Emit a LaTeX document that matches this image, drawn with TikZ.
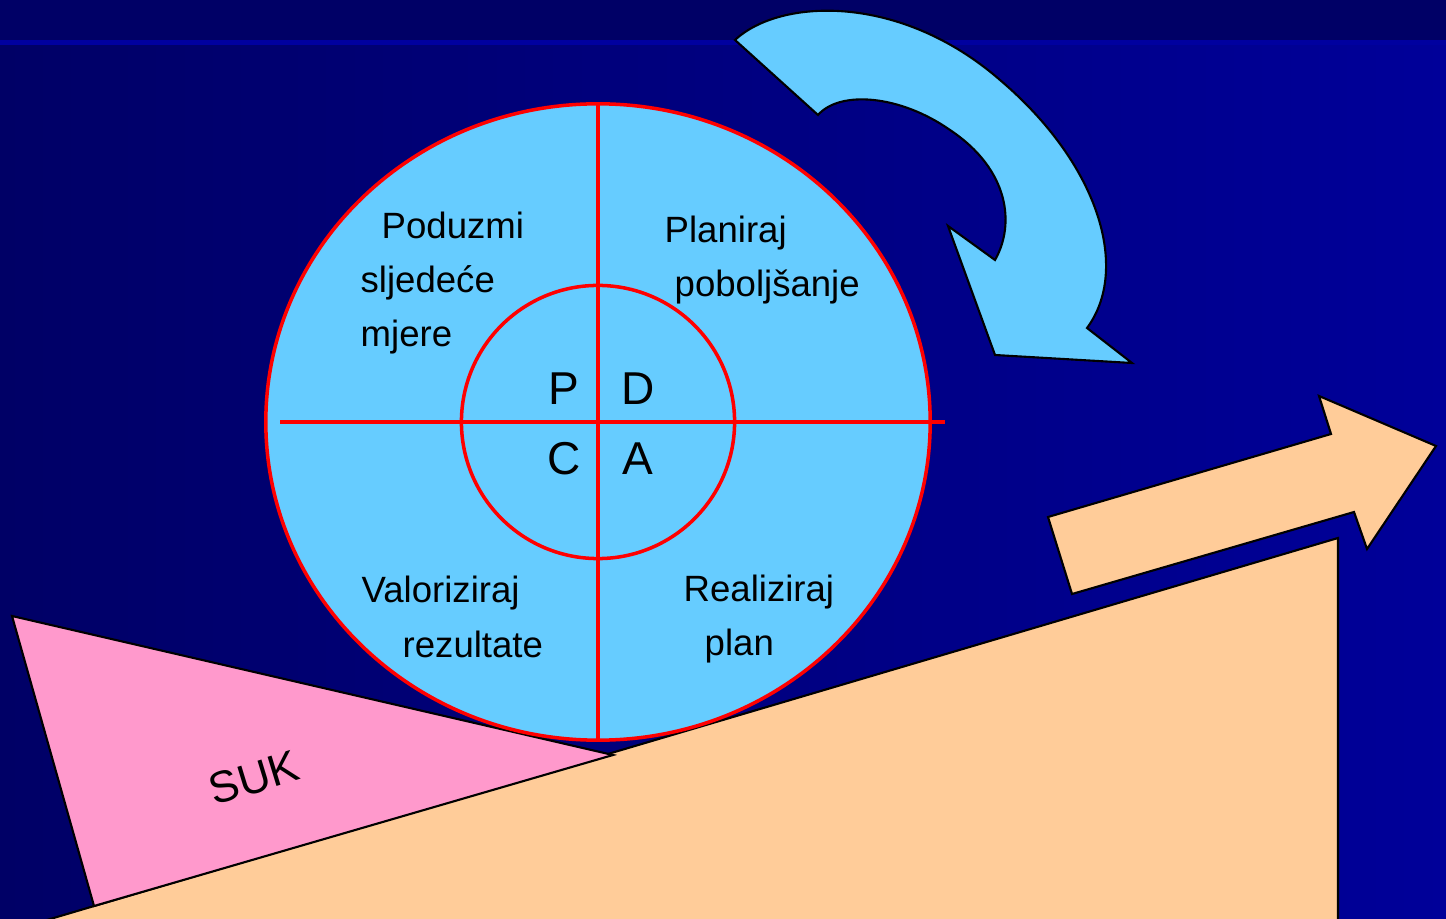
\documentclass[tikz,border=0pt]{standalone}
\usepackage{fontspec}
\setmainfont{Liberation Sans}
\usetikzlibrary{positioning}
\definecolor{bandnavy}{HTML}{000066}
\definecolor{stripnavy}{HTML}{00009F}
\definecolor{bodyright}{HTML}{000099}
\definecolor{wheelblue}{HTML}{66CCFF}
\definecolor{sukpink}{HTML}{FF99CC}
\definecolor{rampbeige}{HTML}{FFCC99}
\tikzset{%
  % Specifications for style of nodes:
            phase/.style = {font=\fontsize{10.4}{12}\selectfont, text=black,
                            inner sep=0pt, anchor=base west},
            letter/.style = {font=\fontsize{13.1}{15}\selectfont, text=black,
                            inner sep=0pt},
            redline/.style = {draw=red, line width=1pt},
            outline/.style = {draw=black, line width=0.6pt}
}
\begin{document}
\begin{tikzpicture}[x=0.01cm, y=-0.01cm, node distance=0.74cm]
                \useasboundingbox (0,0) rectangle (1446,919);
                \clip (0,0) rectangle (1446,919);

                % background
                \shade[left color=bandnavy, right color=bodyright] (0,0) rectangle (1446,919);
                \fill[bandnavy] (0,0) rectangle (1446,40);
                \fill[stripnavy] (0,40) rectangle (1446,45);

                % ramp, wedge and arrow
                \filldraw[outline, fill=rampbeige] (13,930) -- (1338,538) -- (1338,930) -- cycle;
                \filldraw[outline, fill=sukpink] (12,616) -- (613,755) -- (94,906) -- cycle;
                \node[letter, font=\fontsize{12.6}{14}\selectfont, rotate=17] (suk) at (254,778) {SUK};
                \filldraw[outline, fill=rampbeige] (1048,517) -- (1331,434) -- (1319,396)
                    -- (1436,446) -- (1367,549) -- (1354,512) -- (1072,594) -- cycle;

                % wheel
                \coordinate (ctr) at (598,422);
                \filldraw[redline, fill=wheelblue] (ctr) ellipse [x radius=3.32cm, y radius=3.18cm];
                \draw[redline] (ctr) circle [radius=1.365cm];
                \draw[redline] (280,422) -- (945,422);
                \draw[redline] (598,104) -- (598,740);

                \node[phase] (pod1) at (381,239) {Poduzmi};
                \node[phase] (pod2) at (360,293) {sljedeće};
                \node[phase] (pod3) at (360,347) {mjere};
                \node[phase] (pla1) at (664,243) {Planiraj};
                \node[phase] (pla2) at (674,297) {poboljšanje};
                \node[phase] (val1) at (361,603) {Valoriziraj};
                \node[phase] (val2) at (402,657) {rezultate};
                \node[phase] (rea1) at (683,601) {Realiziraj};
                \node[phase] (rea2) at (704,655) {plan};

                \node[letter] (lP) at (564,389) {P};
                \node[letter, right of=lP] (lD) {D};
                \node[letter, below of=lP, node distance=0.70cm] (lC) {C};
                \node[letter, right of=lC] (lA) {A};

                % curved arrow
                \filldraw[outline, fill=wheelblue] (735,40)
                    .. controls (780,-2) and (900,-7) .. (1000,80)
                    .. controls (1100,165) and (1130,270) .. (1087,328)
                    -- (1132,363) -- (995,355) -- (948,226) -- (995,260)
                    .. controls (1015,225) and (1010,170) .. (950,130)
                    .. controls (900,95) and (840,90) .. (818,115)
                    -- cycle;

            \end{tikzpicture}
\end{document}
